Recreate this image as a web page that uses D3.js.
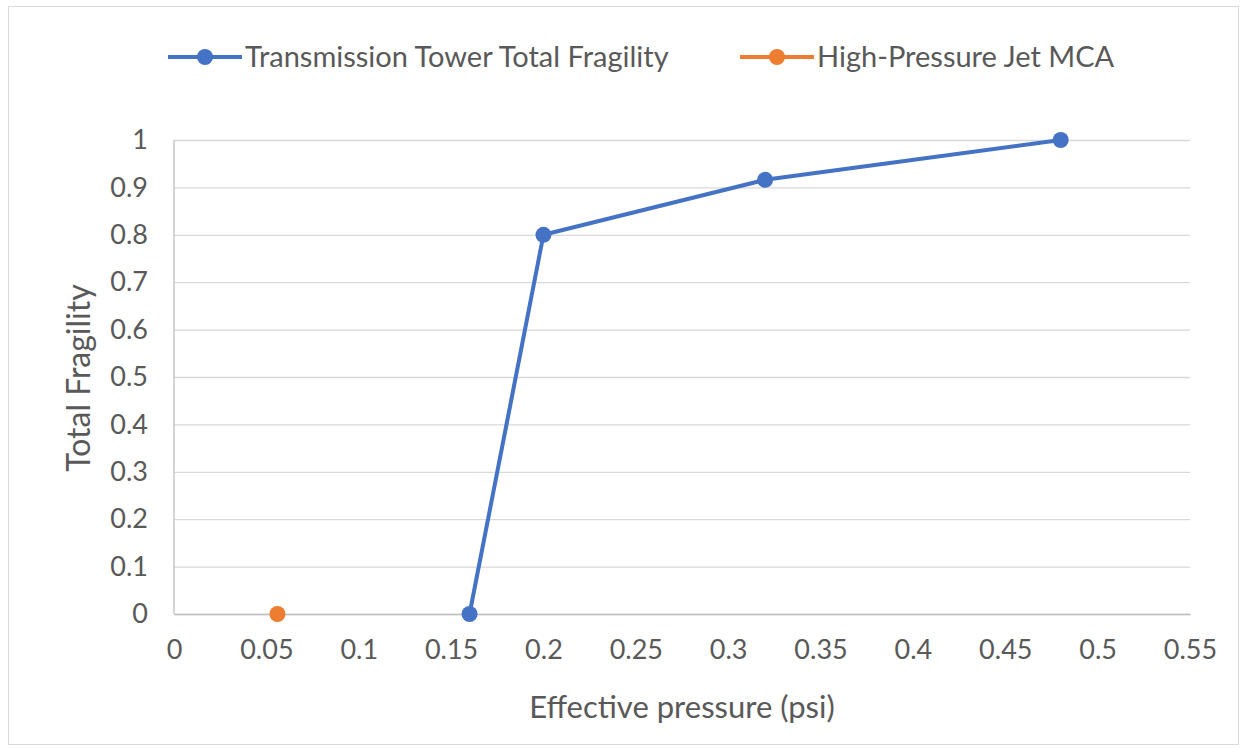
<!DOCTYPE html>
<html>
<head>
    <script src="https://d3js.org/d3.v7.min.js"></script>
    <style>
        body { margin: 0; background: #fff; }
        .tick text, .label, .legend text {
            font-family: Lato, "Open Sans", sans-serif;
            fill: #595959;
        }
    </style>
</head>
<body>
<div id="chart"></div>
<script>
    // Transmission tower series
    const towerX = [0.16, 0.2, 0.32, 0.48];
    const towerY = [0, 0.8, 0.916, 1];
    // High-pressure jet MCA
    const jetX = [0.056];
    const jetY = [0];

    const xTicks = [0, 0.05, 0.1, 0.15, 0.2, 0.25, 0.3, 0.35, 0.4, 0.45, 0.5, 0.55];
    const yTicks = [0, 0.1, 0.2, 0.3, 0.4, 0.5, 0.6, 0.7, 0.8, 0.9, 1];
    const seriesNames = ["Transmission Tower Total Fragility", "High-Pressure Jet MCA"];
    const colors = ["#4472C4", "#ED7D31"];

    const W = 1243, H = 748;
    const margin = { top: 140, right: 53, bottom: 134, left: 174 };
    const w = W - margin.left - margin.right;
    const h = H - margin.top - margin.bottom;

    const svg = d3.select("#chart").append("svg")
        .attr("width", W).attr("height", H);

    // outer border
    svg.append("rect")
        .attr("x", 8.5).attr("y", 6.5)
        .attr("width", 1230).attr("height", 738)
        .attr("fill", "none").attr("stroke", "#d9d9d9");

    const g = svg.append("g").attr("transform", `translate(${margin.left},${margin.top})`);

    const x = d3.scaleLinear().domain([0, 0.55]).range([0, w]);
    const y = d3.scaleLinear().domain([0, 1]).range([h, 0]);

    // gridlines
    g.append("g")
        .call(d3.axisLeft(y).tickValues(yTicks).tickSize(-w).tickFormat(""))
        .call(a => a.select(".domain").remove())
        .call(a => a.selectAll("line").attr("stroke", "#d9d9d9").attr("stroke-width", 1.3));

    // y axis line
    g.append("line").attr("x1", 0).attr("x2", 0).attr("y1", 0).attr("y2", h)
        .attr("stroke", "#bfbfbf").attr("stroke-width", 1.3);

    // x axis
    g.append("g")
        .attr("transform", `translate(0,${h})`)
        .call(d3.axisBottom(x).tickValues(xTicks).tickSize(0).tickPadding(26).tickFormat(d3.format("")))
        .call(a => a.select(".domain").attr("stroke", "#bfbfbf").attr("stroke-width", 1.3))
        .call(a => a.selectAll("text").attr("font-size", 27));

    // y axis labels
    g.append("g")
        .call(d3.axisLeft(y).tickValues(yTicks).tickSize(0).tickPadding(26).tickFormat(d3.format("")))
        .call(a => a.select(".domain").remove())
        .call(a => a.selectAll("text").attr("font-size", 27));

    // axis titles
    svg.append("text").attr("class", "label")
        .attr("x", 682).attr("y", 718)
        .attr("text-anchor", "middle").attr("font-size", 31)
        .text("Effective pressure (psi)");
    svg.append("text").attr("class", "label")
        .attr("transform", "translate(90,378) rotate(-90)")
        .attr("text-anchor", "middle").attr("font-size", 32)
        .text("Total Fragility");

    const line = d3.line().x(d => x(d[0])).y(d => y(d[1]));
    const series = [d3.zip(towerX, towerY), d3.zip(jetX, jetY)];

    series.forEach((pts, i) => {
        g.append("path").datum(pts)
            .attr("d", line).attr("fill", "none")
            .attr("stroke", colors[i]).attr("stroke-width", 4)
            .attr("stroke-linejoin", "round");
        g.selectAll(null).data(pts).enter().append("circle")
            .attr("cx", d => x(d[0])).attr("cy", d => y(d[1]))
            .attr("r", 8).attr("fill", colors[i]);
    });

    // legend
    const legX = [168, 740];
    const leg = svg.append("g").attr("class", "legend");
    seriesNames.forEach((name, i) => {
        const lg = leg.append("g").attr("transform", `translate(${legX[i]},57)`);
        lg.append("line").attr("x1", 0).attr("x2", 74)
            .attr("stroke", colors[i]).attr("stroke-width", 4);
        lg.append("circle").attr("cx", 37).attr("r", 8).attr("fill", colors[i]);
        lg.append("text").attr("x", 77).attr("dy", "0.35em")
            .attr("font-size", 29).text(name);
    });
</script>
</body>
</html>
